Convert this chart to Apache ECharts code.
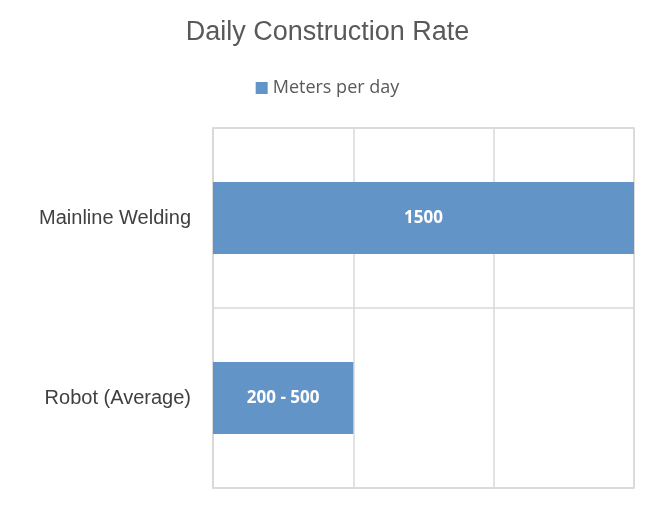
<!DOCTYPE html>
<html>
<head>
<meta charset="utf-8">
<script src="https://cdn.jsdelivr.net/npm/echarts@6/dist/echarts.min.js"></script>
<style>html,body{margin:0;padding:0;background:#fff}#chart{width:655px;height:507px}</style>
</head>
<body>
<div id="chart"></div>
<script>
// Données du graphique
const categories = ['Mainline Welding', 'Robot (Average)'];
const values = [1500, 500];
const valueLabels = ['1500', '200 - 500'];
const seriesName = 'Meters per day';

const chart = echarts.init(document.getElementById('chart'));
chart.setOption({
    backgroundColor: '#ffffff',
    animation: false,
    title: {
        text: 'Daily Construction Rate',
        left: 'center',
        top: 14,
        textStyle: {color: '#595959', fontSize: 27, fontWeight: 'normal', fontFamily: 'Liberation Sans'}
    },
    legend: {
        top: 74,
        left: 'center',
        itemWidth: 12,
        itemHeight: 12,
        icon: 'rect',
        textStyle: {color: '#595959', fontSize: 18, fontFamily: 'Open Sans'},
        data: [seriesName]
    },
    grid: {left: 213, right: 21, top: 128, bottom: 19},
    xAxis: {
        type: 'value',
        min: 0,
        max: 1500,
        interval: 500,
        axisLabel: {show: false},
        axisLine: {show: false},
        axisTick: {show: false},
        splitLine: {lineStyle: {color: '#d9d9d9', width: 1.5}}
    },
    yAxis: {
        type: 'category',
        inverse: true,
        data: categories,
        axisLine: {show: true, lineStyle: {color: '#d9d9d9', width: 1.5}},
        axisTick: {show: false},
        splitLine: {show: true, lineStyle: {color: '#d9d9d9', width: 1.5}},
        axisLabel: {color: '#404040', fontSize: 20, margin: 22, fontFamily: 'Liberation Sans'}
    },
    series: [{
        name: seriesName,
        type: 'bar',
        barWidth: '40%',
        data: values,
        itemStyle: {color: '#6394c8'},
        label: {
            show: true,
            position: 'inside',
            color: '#ffffff',
            fontSize: 17,
            fontWeight: 'bold',
            fontFamily: 'Open Sans',
            formatter: function(p) { return valueLabels[p.dataIndex]; }
        }
    }],
    graphic: [{
        type: 'rect',
        shape: {x: 213, y: 128, width: 421, height: 360},
        style: {fill: 'none', stroke: '#d9d9d9', lineWidth: 1.5},
        silent: true
    }]
});
</script>
</body>
</html>
